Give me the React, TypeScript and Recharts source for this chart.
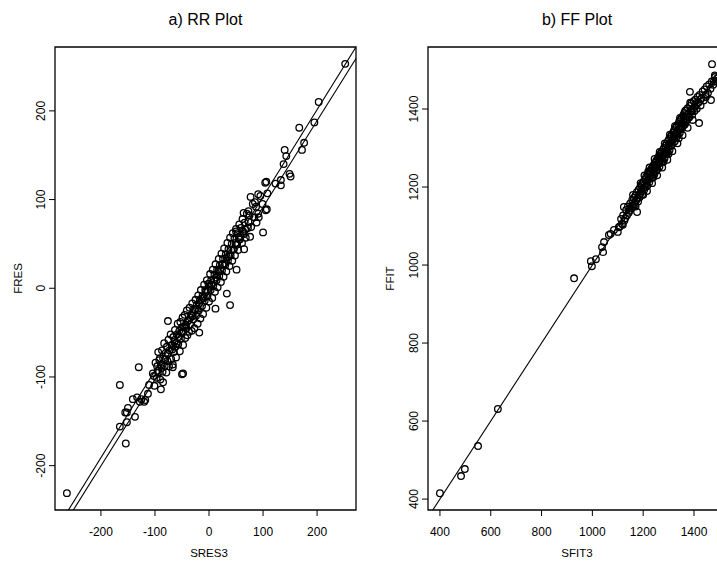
import { ScatterChart, Scatter, XAxis, YAxis, ReferenceLine, ReferenceArea } from 'recharts';

const FONT = '"Liberation Sans", Arial, Helvetica, sans-serif';

// a) RR plot: SRES3 vs FRES (values read off the picture)
const rrOutliers: number[][] = [
  [-263, -231], [-165, -109], [-165, -156], [-154, -175], [-130, -89], [-141, -125], [-152, -140],
  [-150, -135], [-137, -145], [-128, -128], [-133, -123], [-113, -119], [-111, -109], [-102, -99],
  [-89, -114], [-85, -106], [-50, -97], [-76, -37], [-92, -81], [-67, -89], [-18, -50], [-48, -96],
  [39, -19], [33, -6], [12, -23], [-152, -151], [-155, -140], [-125, -125], [-120, -128], [-118, -126],
  [252, 253], [203, 210], [195, 187], [167, 181], [176, 164], [172, 156], [140, 156], [143, 149],
  [138, 140], [149, 129], [151, 126], [133, 122], [123, 118], [133, 116], [106, 120], [104, 119],
  [107, 89], [105, 88], [100, 63], [108, 107], [91, 106], [77, 103], [85, 97], [64, 85], [73, 87],
  [92, 80], [88, 74], [50, 64], [76, 58], [65, 44], [51, 21],
];

const rrCore: number[][] = [
  [-104, -96], [-101, -110], [-99, -84], [-97, -101], [-96, -88], [-94, -72], [-93, -95], [-91, -79],
  [-90, -103], [-89, -86], [-87, -70], [-86, -94], [-85, -79], [-83, -62], [-82, -88], [-80, -73],
  [-79, -95], [-78, -66], [-77, -82], [-75, -58], [-74, -88], [-73, -70], [-71, -52], [-70, -80],
  [-69, -64], [-67, -86], [-66, -55], [-65, -72], [-63, -47], [-62, -66], [-61, -78], [-59, -52],
  [-58, -40], [-57, -63], [-55, -48], [-54, -71], [-53, -38], [-52, -57], [-50, -44], [-49, -33],
  [-48, -64], [-47, -49], [-45, -30], [-44, -56], [-43, -41], [-41, -25], [-40, -53], [-39, -37],
  [-37, -49], [-36, -22], [-35, -41], [-33, -30], [-32, -48], [-31, -17], [-29, -35], [-28, -24],
  [-27, -45], [-25, -13], [-24, -31], [-23, -19], [-21, -40], [-20, -8], [-19, -25], [-17, -14],
  [-16, -34], [-15, -2], [-13, -20], [-12, -9], [-11, -29], [-9, 4], [-8, -14], [-7, -2], [-5, -22],
  [-4, 9], [-3, -9], [-1, 5], [0, -15], [2, 16], [3, -2], [4, 9], [6, -11], [7, 21], [8, 3], [10, 15],
  [11, -4], [12, 27], [14, 9], [15, 21], [16, 1], [18, 33], [19, 14], [20, 26], [22, 7], [23, 39],
  [24, 20], [26, 33], [27, 13], [28, 45], [30, 26], [31, 38], [32, 19], [34, 51], [35, 31], [36, 44],
  [38, 25], [39, 57], [40, 37], [42, 50], [43, 31], [44, 62], [46, 44], [47, 56], [48, 37], [50, 67],
  [51, 49], [53, 62], [54, 43], [56, 72], [57, 55], [59, 68], [61, 51], [62, 78], [64, 61], [66, 74],
  [68, 57], [70, 84], [72, 68], [75, 82], [78, 69], [81, 95], [84, 80], [87, 92], [91, 84], [95, 104],
  [99, 95],
  [-95, -93], [-88, -90], [-81, -80], [-76, -74], [-68, -69], [-64, -60], [-60, -62], [-56, -55],
  [-51, -50], [-46, -44], [-42, -45], [-38, -36], [-34, -33], [-30, -31], [-26, -24], [-22, -23],
  [-18, -17], [-14, -12], [-10, -11], [-6, -4], [-2, -3], [1, 2], [5, 4], [9, 10], [13, 12], [17, 19],
  [21, 20], [25, 27], [29, 28], [33, 35], [37, 36], [41, 43], [45, 44], [49, 51], [52, 50], [55, 57],
  [58, 59], [63, 64], [67, 66], [73, 75],
];

// b) FF plot: SFIT3 vs FFIT
const ffOutliers: number[][] = [
  [400, 415], [483, 459], [498, 477], [550, 536], [628, 631], [928, 966], [994, 1010], [1014, 1015],
  [998, 997], [1042, 1033], [1038, 1046], [1046, 1059], [1065, 1077], [1072, 1080], [1085, 1090],
  [1100, 1085], [1104, 1097], [1120, 1103], [1124, 1149], [1176, 1136], [1471, 1515], [1384, 1444],
  [1420, 1364], [1467, 1423], [1447, 1431], [1483, 1482], [1490, 1478], [1478, 1470],
];

const ffCore: number[][] = [
  [1108, 1099], [1113, 1118], [1117, 1106], [1121, 1127], [1126, 1114], [1129, 1120], [1133, 1141],
  [1136, 1127], [1140, 1150], [1143, 1134], [1146, 1139], [1149, 1158], [1152, 1145], [1155, 1151],
  [1157, 1167], [1160, 1150], [1163, 1172], [1165, 1160], [1168, 1155], [1170, 1179], [1173, 1166],
  [1175, 1187], [1178, 1171], [1180, 1163], [1182, 1193], [1184, 1180], [1186, 1174], [1188, 1199],
  [1190, 1185], [1192, 1205], [1194, 1190], [1196, 1181], [1198, 1210], [1200, 1196], [1202, 1214],
  [1204, 1193], [1206, 1205], [1208, 1220], [1210, 1200], [1212, 1227], [1214, 1211], [1216, 1203],
  [1218, 1232], [1220, 1219], [1222, 1236], [1224, 1212], [1226, 1228], [1228, 1241], [1230, 1222],
  [1232, 1247], [1234, 1231], [1236, 1225], [1238, 1252], [1240, 1238], [1242, 1257], [1244, 1233],
  [1246, 1249], [1248, 1263], [1250, 1241], [1252, 1268], [1254, 1252], [1256, 1246], [1258, 1273],
  [1260, 1259], [1262, 1280], [1264, 1252], [1266, 1267], [1268, 1285], [1270, 1263], [1272, 1290],
  [1274, 1274], [1276, 1266], [1278, 1296], [1280, 1281], [1282, 1300], [1284, 1273], [1286, 1290],
  [1288, 1306], [1290, 1284], [1292, 1311], [1294, 1296], [1296, 1288], [1298, 1318], [1300, 1303],
  [1302, 1323], [1304, 1295], [1306, 1313], [1308, 1329], [1310, 1306], [1312, 1334], [1314, 1319],
  [1316, 1311], [1318, 1340], [1320, 1326], [1322, 1346], [1324, 1317], [1326, 1334], [1328, 1352],
  [1330, 1327], [1332, 1357], [1334, 1342], [1336, 1334], [1338, 1362], [1340, 1348], [1342, 1368],
  [1344, 1339], [1346, 1355], [1348, 1373], [1350, 1349], [1352, 1378], [1354, 1363], [1356, 1355],
  [1358, 1384], [1360, 1369], [1362, 1390], [1364, 1360], [1366, 1377], [1369, 1397], [1372, 1371],
  [1375, 1402], [1378, 1387], [1381, 1378], [1384, 1408], [1387, 1394], [1390, 1415], [1393, 1385],
  [1396, 1401], [1399, 1420], [1402, 1395], [1405, 1424], [1408, 1410], [1411, 1401], [1414, 1431],
  [1418, 1417], [1422, 1436], [1426, 1409], [1430, 1428], [1434, 1445], [1438, 1422], [1442, 1450],
  [1446, 1437], [1450, 1458], [1455, 1441], [1460, 1463], [1465, 1452], [1470, 1471], [1476, 1462],
  [1482, 1486], [1488, 1472],
  [1251, 1256], [1263, 1265], [1275, 1279], [1287, 1286], [1299, 1301], [1311, 1315], [1323, 1326],
  [1335, 1338], [1347, 1350], [1359, 1360], [1367, 1366], [1379, 1380], [1391, 1393], [1403, 1406],
  [1415, 1416], [1427, 1425],
  [1205, 1230], [1215, 1190], [1225, 1250], [1235, 1210], [1245, 1272], [1255, 1230], [1265, 1290],
  [1275, 1250], [1285, 1312], [1295, 1270], [1305, 1334], [1315, 1292], [1325, 1356], [1335, 1312],
  [1345, 1377], [1355, 1333], [1365, 1395], [1375, 1352], [1385, 1416], [1395, 1372], [1300, 1285],
  [1320, 1340], [1340, 1325], [1360, 1380], [1280, 1265], [1260, 1275], [1240, 1225], [1220, 1240],
  [1200, 1180], [1190, 1210], [1170, 1150], [1160, 1180],
];

const rrXTicks = [-200, -100, 0, 100, 200];
const rrYTicks = [-200, -100, 0, 100, 200];
const ffXTicks = [400, 600, 800, 1000, 1200, 1400];
const ffYTicks = [400, 600, 800, 1000, 1200, 1400];

const rrXDomain = [-285, 272];
const rrYDomain = [-250, 272];
const ffXDomain = [353, 1526];
const ffYDomain = [372, 1559];

// the two fitted lines in the RR plot: [intercept, slope]
const rrLineA = [5.2, 0.981];
const rrLineB = [-5.7, 0.973];

const toObj = (arr: number[][]) => arr.map(([x, y]) => ({ x, y }));
const rrData = toObj([...rrOutliers, ...rrCore]);
const ffData = toObj([...ffOutliers, ...ffCore]);

const Circle = (p: any) => (
  <circle cx={p.cx} cy={p.cy} r={3.3} fill="none" stroke="#000" strokeWidth={1.3} />
);

const RotTick = (p: any) => (
  <text
    x={p.x}
    y={p.y}
    transform={`rotate(-90, ${p.x}, ${p.y})`}
    textAnchor="middle"
    fontSize={12}
    fontFamily={FONT}
    fill="#000"
  >
    {p.payload.value}
  </text>
);

const lineSeg = (ab: number[], x0: number, x1: number) => [
  { x: x0, y: ab[0] + ab[1] * x0 },
  { x: x1, y: ab[0] + ab[1] * x1 },
];

const Panel = ({ data, xDomain, yDomain, xTicks, yTicks, width, yWidth, children }: any) => (
  <ScatterChart width={width} height={562} margin={{ top: 47, right: 4, bottom: 0, left: 0 }}>
    <XAxis
      type="number"
      dataKey="x"
      domain={xDomain}
      ticks={xTicks}
      allowDataOverflow
      axisLine={false}
      tickLine={{ stroke: '#000' }}
      tickSize={6}
      tickMargin={11}
      height={52}
      tick={{ fill: '#000', fontSize: 12, fontFamily: FONT }}
    />
    <YAxis
      type="number"
      dataKey="y"
      domain={yDomain}
      ticks={yTicks}
      allowDataOverflow
      axisLine={false}
      tickLine={{ stroke: '#000' }}
      tickSize={6}
      tickMargin={3.5}
      width={yWidth}
      tick={RotTick}
    />
    <ReferenceArea
      x1={xDomain[0]}
      x2={xDomain[1]}
      y1={yDomain[0]}
      y2={yDomain[1]}
      fill="none"
      stroke="#000"
      strokeWidth={1.3}
      ifOverflow="visible"
    />
    {children}
    <Scatter data={data} shape={Circle} isAnimationActive={false} />
  </ScatterChart>
);

const label = { fontFamily: FONT, fill: '#000' };

export default function App() {
  return (
    <div
      style={{
        position: 'absolute',
        left: 0,
        top: 0,
        width: 717,
        height: 562,
        overflow: 'hidden',
        background: '#fff',
      }}
    >
      <div style={{ position: 'absolute', left: 0, top: 0 }}>
        <Panel
          data={rrData}
          xDomain={rrXDomain}
          yDomain={rrYDomain}
          xTicks={rrXTicks}
          yTicks={rrYTicks}
          width={360}
          yWidth={55}
        >
          <ReferenceLine
            segment={lineSeg(rrLineA, -300, 290)}
            stroke="#000"
            strokeWidth={1.1}
            ifOverflow="hidden"
          />
          <ReferenceLine
            segment={lineSeg(rrLineB, -300, 290)}
            stroke="#000"
            strokeWidth={1.1}
            ifOverflow="hidden"
          />
        </Panel>
      </div>
      <div style={{ position: 'absolute', left: 358, top: 0 }}>
        <Panel
          data={ffData}
          xDomain={ffXDomain}
          yDomain={ffYDomain}
          xTicks={ffXTicks}
          yTicks={ffYTicks}
          width={372}
          yWidth={70}
        >
          <ReferenceLine
            segment={lineSeg([0, 1], 340, 1560)}
            stroke="#000"
            strokeWidth={1.1}
            ifOverflow="hidden"
          />
        </Panel>
      </div>
      <svg
        width={717}
        height={562}
        style={{ position: 'absolute', left: 0, top: 0, pointerEvents: 'none' }}
      >
        <text x={205.5} y={19} textAnchor="middle" dominantBaseline="central" fontSize={16} {...label}>
          a) RR Plot
        </text>
        <text x={577} y={19} textAnchor="middle" dominantBaseline="central" fontSize={16} {...label}>
          b) FF Plot
        </text>
        <text x={209} y={553} textAnchor="middle" dominantBaseline="central" fontSize={11.5} {...label}>
          SRES3
        </text>
        <text x={577} y={553} textAnchor="middle" dominantBaseline="central" fontSize={11.5} {...label}>
          SFIT3
        </text>
        <text
          x={18}
          y={278.5}
          transform="rotate(-90, 18, 278.5)"
          textAnchor="middle"
          dominantBaseline="central"
          fontSize={11.5}
          {...label}
        >
          FRES
        </text>
        <text
          x={390}
          y={278.5}
          transform="rotate(-90, 390, 278.5)"
          textAnchor="middle"
          dominantBaseline="central"
          fontSize={11.5}
          {...label}
        >
          FFIT
        </text>
      </svg>
    </div>
  );
}
